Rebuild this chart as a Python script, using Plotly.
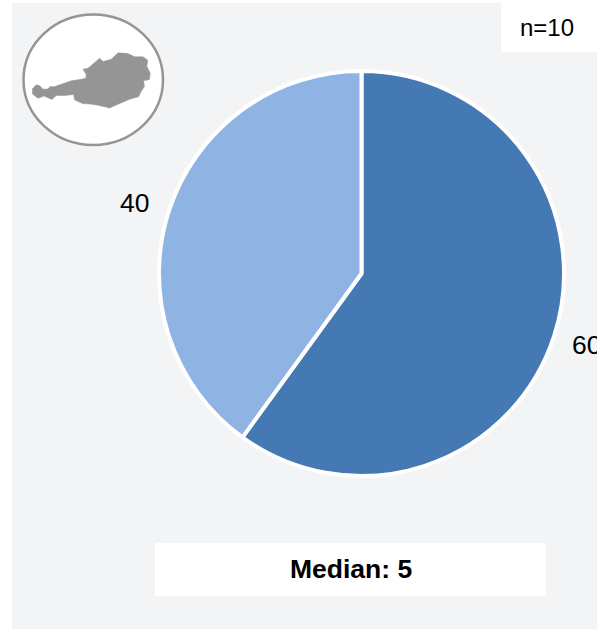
import plotly.graph_objects as go

W, H = 597, 629
categories = ["A", "B"]
values = [60, 40]
colors = ["#4479B4", "#8FB3E3"]
n_label = "n=10"
median_label = "Median: 5"

# outline of Austria (pixels)
map_x = [32.5,36.3,39.7,43,48,50,54,61.3,71.3,81.3,85.7,86.3,83,88,94.7,99.7,103,111.3,118,128,134.7,143,147.8,146.8,150.2,149.5,143.5,144.5,141,138.5,129.7,119.7,109.7,98,88,83,74.7,73.5,64.7,56.3,52,48,44,38,32.5]
map_y = [88.7,84.8,85.8,89.2,89,86.5,86.8,84.2,80.8,79.2,78.2,74.7,69.2,68.2,62.5,58.2,61.5,59.2,52.8,53.5,56.8,56.8,60.2,66.3,73,79.5,80.8,86.3,91.8,96.8,99.2,103.5,108,105.2,103.8,103.8,100,94.5,95.5,95.5,99.5,97.8,96,98.3,94]


def px(x):
    return x / W


def py(y):
    return 1 - y / H


def rect(x0, y0, x1, y1, fill):
    return dict(type="rect", xref="paper", yref="paper", x0=px(x0), x1=px(x1),
                y0=py(y1), y1=py(y0), fillcolor=fill, line_width=0, layer="below")


path = "M " + " L ".join(f"{px(x):.5f},{py(y):.5f}" for x, y in zip(map_x, map_y)) + " Z"

fig = go.Figure(go.Pie(
    labels=categories, values=values, sort=False, direction="clockwise", rotation=0,
    marker=dict(colors=colors, line=dict(color="white", width=4)),
    textinfo="none", hoverinfo="label+value", showlegend=False,
    domain=dict(x=[px(159), px(564)], y=[py(476), py(71)]),
))

shapes = [
    rect(12, 3, 597, 629, "#F3F4F6"),
    rect(501, 0, 597, 52, "white"),
    rect(155, 543, 546, 596, "white"),
    dict(type="circle", xref="paper", yref="paper", x0=px(23.5), x1=px(163), y0=py(145), y1=py(14.5),
         fillcolor="white", line=dict(color="#959595", width=2.5), layer="below"),
    dict(type="path", xref="paper", yref="paper", path=path, fillcolor="#959595",
         line=dict(color="#959595", width=0.5), layer="below"),
]


def label(x, y, text, size=24, bold=False, anchor="center"):
    return dict(xref="paper", yref="paper", x=px(x), y=py(y), text=f"<b>{text}</b>" if bold else text,
                showarrow=False, xanchor=anchor, yanchor="middle", font=dict(size=size, color="black"))


annotations = [
    label(134.5, 203, str(values[1]), size=26.5),
    label(570, 345, str(values[0]), size=26.5, anchor="left"),
    label(547, 28, n_label),
    label(351, 569, median_label, size=26.5, bold=True),
]

fig.update_layout(
    width=W, height=H, margin=dict(l=0, r=0, t=0, b=0), paper_bgcolor="white",
    font=dict(family="Liberation Sans, Arial, sans-serif"),
    shapes=shapes, annotations=annotations,
)
fig.write_html("out.html", config={"displayModeBar": False},
               post_script="document.body.style.margin='0';document.body.style.overflow='hidden';")
